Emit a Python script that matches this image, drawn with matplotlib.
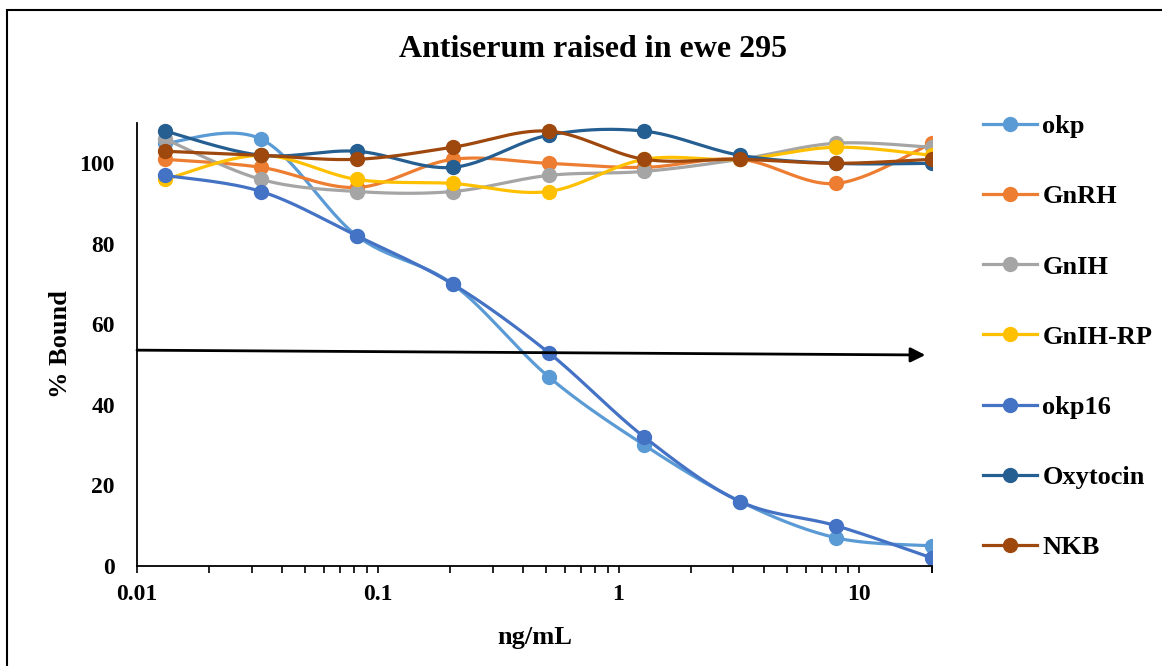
import numpy as np
import matplotlib
matplotlib.use("Agg")
import matplotlib.pyplot as plt
from matplotlib.patches import Rectangle
from matplotlib.ticker import FixedLocator, NullFormatter

# concentrations (ng/mL), 2.5-fold dilutions
conc = [0.0131, 0.0328, 0.0819, 0.2048, 0.512, 1.28, 3.2, 8.0, 20.0]

# % bound for each peptide
okp = [105, 106, 82, 70, 47, 30, 16, 7, 5]
gnrh = [101, 99, 94, 101, 100, 99, 101, 95, 105]
gnih = [106, 96, 93, 93, 97, 98, 101, 105, 104]
gnih_rp = [96, 102, 96, 95, 93, 101, 101, 104, 102]
okp16 = [97, 93, 82, 70, 53, 32, 16, 10, 2]
oxytocin = [108, 102, 103, 99, 107, 108, 102, 100, 100]
nkb = [103, 102, 101, 104, 108, 101, 101, 100, 101]

names = ['okp', 'GnRH', 'GnIH', 'GnIH-RP', 'okp16', 'Oxytocin', 'NKB']
colors = ['#5B9BD5', '#ED7D31', '#A5A5A5', '#FFC000', '#4472C4', '#255E91', '#9E480E']

# 50% binding reference arrow (start, end)
arrow_start = (0.01, 53.6)
arrow_end = (18.8, 52.4)

plt.rcParams['font.family'] = ['Liberation Serif', 'DejaVu Serif']
plt.rcParams['font.weight'] = 'bold'


def smooth(xs, ys, n=30):
    # excel-like smoothed line (catmull-rom in log-x space)
    lx = np.log10(xs)
    ys = np.asarray(ys, dtype=float)
    px = np.concatenate([[lx[0]], lx, [lx[-1]]])
    py = np.concatenate([[ys[0]], ys, [ys[-1]]])
    t = np.linspace(0, 1, n)
    outx, outy = [], []
    for i in range(1, len(px) - 2):
        for p, out in ((px, outx), (py, outy)):
            p0, p1, p2, p3 = p[i - 1], p[i], p[i + 1], p[i + 2]
            c1 = p1 + (p2 - p0) / 6
            c2 = p2 - (p3 - p1) / 6
            b = ((1 - t) ** 3 * p1 + 3 * (1 - t) ** 2 * t * c1
                 + 3 * (1 - t) * t ** 2 * c2 + t ** 3 * p2)
            out.extend(b)
    return 10 ** np.array(outx), np.array(outy)


fig = plt.figure(figsize=(11.62, 6.66), dpi=100)
ax = fig.add_axes([0.1179, 0.1502, 0.684, 0.665])

series = [okp, gnrh, gnih, gnih_rp, okp16, oxytocin, nkb]
handles = []
for name, vals, c in zip(names, series, colors):
    sx, sy = smooth(conc, vals)
    ax.plot(sx, sy, color=c, lw=2.3, solid_capstyle='round')
    ax.plot(conc, vals, 'o', color=c, ms=10)
    h, = ax.plot([], [], color=c, lw=2.3, marker='o', ms=10, label=name)
    handles.append(h)

ax.annotate('', xy=arrow_end, xytext=arrow_start,
            arrowprops=dict(arrowstyle='-|>', color='black', lw=2,
                            mutation_scale=22, shrinkA=0, shrinkB=0))

ax.set_xscale('log')
ax.set_xlim(0.01, 20)
ax.set_ylim(0, 110)
ax.set_xticks([0.01, 0.1, 1, 10])
ax.set_xticklabels(['0.01', '0.1', '1', '10'])
minors = [m * 10.0 ** e for e in range(-2, 2) for m in range(2, 10)] + [20]
ax.xaxis.set_minor_locator(FixedLocator([v for v in minors if v <= 20]))
ax.xaxis.set_minor_formatter(NullFormatter())
ax.set_yticks([0, 20, 40, 60, 80, 100])
ax.tick_params(axis='x', which='both', direction='out', length=5, width=1.2,
               labelsize=17, pad=8)
ax.tick_params(axis='y', length=0, labelsize=17, pad=16)
for s in ['top', 'right']:
    ax.spines[s].set_visible(False)
for s in ['left', 'bottom']:
    ax.spines[s].set_linewidth(1.3)

ax.set_xlabel('ng/mL', fontsize=19, fontweight='bold', labelpad=15)
ax.set_ylabel('% Bound', fontsize=19, fontweight='bold', labelpad=5)

fig.text(0.51, 0.925, 'Antiserum raised in ewe 295', fontsize=23,
         fontweight='bold', ha='center', va='center')

fig.legend(handles=handles, loc='center left', bbox_to_anchor=(0.846, 0.494),
           frameon=False, fontsize=19, handlelength=2.05, handletextpad=0.2,
           labelspacing=1.77, borderpad=0, borderaxespad=0)

fig.add_artist(Rectangle((7 / 1162, -0.1), 1.2, 1.1 - 10 / 666,
                         transform=fig.transFigure, fill=False,
                         edgecolor='black', lw=1.5))

fig.savefig('out.png', dpi=100)
